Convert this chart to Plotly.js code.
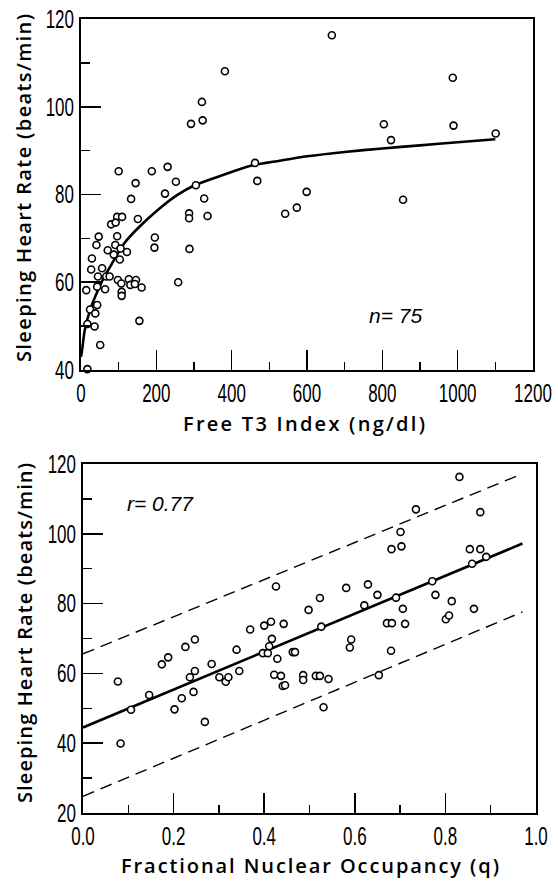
<!DOCTYPE html>
<html>
<head>
<meta charset="utf-8">
<script src="https://cdn.plot.ly/plotly-3.0.1.min.js"></script>
<style>
  html, body { margin: 0; padding: 0; background: #fff; }
  #chart { width: 558px; height: 882px; }
</style>
</head>
<body>
<div id="chart"></div>
<script>
// ---- Top panel: Free T3 index vs sleeping heart rate ----
const t3Index = [382,321,323,292,100,188,230,145,252,133,223,327,287,287,336,151,96,109,80,92,196,195,288,47,41,96,91,71,105,122,87,103,29,27,56,45,67,76,43,64,14,98,107,108,108,127,146,131,143,161,155,258,43,24,38,17,36,51,17,468,462,305,666,987,804,989,823,1101,542,573,599,855];
const hrTop = [108.1,101.1,96.9,96.1,85.3,85.3,86.3,82.6,82.9,79.0,80.2,79.1,75.7,74.6,75.1,74.4,74.9,74.9,73.2,73.6,70.2,67.9,67.6,70.4,68.5,70.5,68.5,67.3,67.7,66.9,66.3,65.2,65.4,62.9,63.2,61.3,61.3,61.3,59.0,58.4,58.2,60.5,59.7,57.8,56.9,60.7,60.5,59.4,59.6,58.8,51.2,60.0,54.8,53.8,52.9,50.5,49.9,45.7,40.2,83.1,87.2,82.1,116.3,106.6,96.0,95.7,92.4,93.9,75.6,77.0,80.6,78.8];
// fitted curve
const fitT3 = [0,3,10,27,45,62,80,98,115,151,203,256,302,362,415,459,520,600,700,800,900,1000,1100];
const fitHr = [43,44.6,49.1,54.4,58.2,61.3,63.9,66.6,68.9,72.3,76.4,79.9,82.1,84.0,85.6,86.7,87.6,88.7,89.7,90.5,91.2,91.9,92.6];

// ---- Bottom panel: fractional nuclear occupancy vs sleeping heart rate ----
const occupancy = [0.077,0.083,0.106,0.146,0.174,0.188,0.202,0.218,0.226,0.247,0.236,0.247,0.244,0.269,0.284,0.301,0.315,0.321,0.339,0.345,0.369,0.400,0.415,0.417,0.411,0.397,0.408,0.426,0.422,0.429,0.437,0.441,0.446,0.443,0.463,0.468,0.486,0.486,0.498,0.514,0.523,0.523,0.526,0.531,0.542,0.581,0.589,0.592,0.621,0.629,0.650,0.653,0.671,0.680,0.682,0.681,0.691,0.701,0.703,0.706,0.711,0.735,0.771,0.778,0.801,0.808,0.814,0.831,0.854,0.859,0.863,0.877,0.877,0.890];
const hrBottom = [57.7,39.9,49.6,53.8,62.6,64.6,49.7,52.9,67.6,69.7,58.9,60.7,54.7,46.1,62.7,58.9,57.6,58.9,66.8,60.7,72.6,73.7,74.8,69.9,67.8,65.8,65.8,84.9,59.6,64.2,59.3,56.4,56.6,74.2,66.1,66.1,59.5,58.1,78.2,59.3,59.3,81.6,73.4,50.3,58.4,84.5,67.4,69.7,79.5,85.5,82.5,59.5,74.4,66.5,74.4,95.6,81.7,100.5,96.4,78.5,74.2,107.0,86.4,82.5,75.5,76.6,80.7,116.3,95.6,91.4,78.5,95.6,106.2,93.4];
const lineQ = [0, 0.97];
const regHr = [44.5, 97.2];
const upperHr = [65.6, 117.2];
const lowerHr = [24.8, 77.6];

const topLabel = 'n= 75';
const bottomLabel = 'r= 0.77';
const xTitleTop = 'Free T3 Index (ng/dl)';
const xTitleBottom = 'Fractional Nuclear Occupancy (q)';
const yTitle = 'Sleeping Heart Rate (beats/min)';

const marker = { symbol: 'circle', size: 7, color: '#fff', line: { color: '#000', width: 1.6 } };

const traces = [
  { x: fitT3, y: fitHr, mode: 'lines', line: { color: '#000', width: 2.6, shape: 'spline', smoothing: 0.6 }, xaxis: 'x', yaxis: 'y' },
  { x: t3Index, y: hrTop, mode: 'markers', marker: marker, xaxis: 'x', yaxis: 'y', cliponaxis: false },
  { x: lineQ, y: upperHr, mode: 'lines', line: { color: '#000', width: 1.4, dash: '12px,7px' }, xaxis: 'x2', yaxis: 'y2' },
  { x: lineQ, y: lowerHr, mode: 'lines', line: { color: '#000', width: 1.4, dash: '12px,7px' }, xaxis: 'x2', yaxis: 'y2' },
  { x: lineQ, y: regHr, mode: 'lines', line: { color: '#000', width: 2.6 }, xaxis: 'x2', yaxis: 'y2' },
  { x: occupancy, y: hrBottom, mode: 'markers', marker: marker, xaxis: 'x2', yaxis: 'y2', cliponaxis: false }
];

const tickFont = { family: "'Liberation Sans', Arial, sans-serif", size: 25, color: '#000' };
const titleFont = { family: "'Open Sans', 'DejaVu Sans', sans-serif", size: 20, color: '#000', weight: 600 };

function axisBase(extra) {
  return Object.assign({
    showgrid: false, zeroline: false, showline: true, linecolor: '#000', linewidth: 2,
    mirror: true, ticks: 'inside', ticklen: 20, tickwidth: 1.6, tickcolor: '#000',
    tickfont: tickFont, ticklabeloverflow: 'allow', fixedrange: true
  }, extra);
}

const layout = {
  width: 558, height: 882,
  margin: { l: 0, r: 0, t: 0, b: 0 },
  paper_bgcolor: '#fff', plot_bgcolor: '#fff',
  showlegend: false,
  xaxis: axisBase({ domain: [81/558, 533/558], anchor: 'y', range: [0, 1200], tick0: 0, dtick: 200,
    minor: { dtick: 100, ticks: 'inside', ticklen: 8, tickwidth: 1.4, tickcolor: '#000' },
    title: { text: xTitleTop, font: titleFont, standoff: 4 } }),
  yaxis: axisBase({ domain: [(882-370)/882, (882-19)/882], anchor: 'x', range: [40, 120], tick0: 40, dtick: 20,
    minor: { dtick: 10, ticks: 'inside', ticklen: 9, tickwidth: 1.4, tickcolor: '#000' },
    title: { text: yTitle, font: titleFont, standoff: 4 } }),
  xaxis2: axisBase({ domain: [83/558, 536/558], anchor: 'y2', range: [0, 1], tick0: 0, dtick: 0.2, tickformat: '.1f',
    minor: { dtick: 0.1, ticks: 'inside', ticklen: 8, tickwidth: 1.4, tickcolor: '#000' },
    title: { text: xTitleBottom, font: titleFont, standoff: 4 } }),
  yaxis2: axisBase({ domain: [(882-813)/882, (882-464)/882], anchor: 'x2', range: [20, 120], tick0: 20, dtick: 20,
    minor: { dtick: 10, ticks: 'inside', ticklen: 9, tickwidth: 1.4, tickcolor: '#000' },
    title: { text: yTitle, font: titleFont, standoff: 4 } }),
  annotations: [
    { text: topLabel, xref: 'x', yref: 'y', x: 910, y: 52.5, xanchor: 'right', yanchor: 'middle', showarrow: false,
      font: { family: "'Liberation Sans', sans-serif", size: 21, style: 'italic', color: '#000' } },
    { text: bottomLabel, xref: 'x2', yref: 'y2', x: 0.093, y: 108.8, xanchor: 'left', yanchor: 'middle', showarrow: false,
      font: { family: "'Liberation Sans', sans-serif", size: 21, style: 'italic', color: '#000' } }
  ]
};

// narrow the tick numbers horizontally (the original uses a condensed face)
function condenseTicks(gd) {
  const s = 0.68;
  gd.querySelectorAll('g.xtick text, g.ytick text, g.x2tick text, g.y2tick text').forEach(function (t) {
    const x = parseFloat(t.getAttribute('x') || 0);
    const y = parseFloat(t.getAttribute('y') || 0);
    const tr = t.getAttribute('transform') || '';
    t.setAttribute('transform', tr + ' translate(' + x + ',' + y + ') scale(' + s + ',1) translate(' + (-x) + ',' + (-y) + ')');
  });
}

// spread the axis titles to the original's wide letter spacing and place them
function placeTitle(gd, sel, len, cx, cy) {
  const t = gd.querySelector(sel);
  if (!t) return;
  t.setAttribute('textLength', len);
  t.setAttribute('lengthAdjust', 'spacing');
  const r = t.getBoundingClientRect();
  const g = gd.getBoundingClientRect();
  const dx = cx - (r.left - g.left + r.width / 2);
  const dy = cy - (r.top - g.top + r.height / 2);
  t.setAttribute('transform', 'translate(' + dx + ',' + dy + ') ' + (t.getAttribute('transform') || ''));
}

Plotly.newPlot('chart', traces, layout, { staticPlot: true, displayModeBar: false }).then(function (gd) {
  condenseTicks(gd);
  placeTitle(gd, 'text.xtitle', 242, 304, 423);
  placeTitle(gd, 'text.x2title', 378, 310, 865);
  placeTitle(gd, 'text.ytitle', 348, 23, 188);
  placeTitle(gd, 'text.y2title', 340, 24, 633);
});
</script>
</body>
</html>
